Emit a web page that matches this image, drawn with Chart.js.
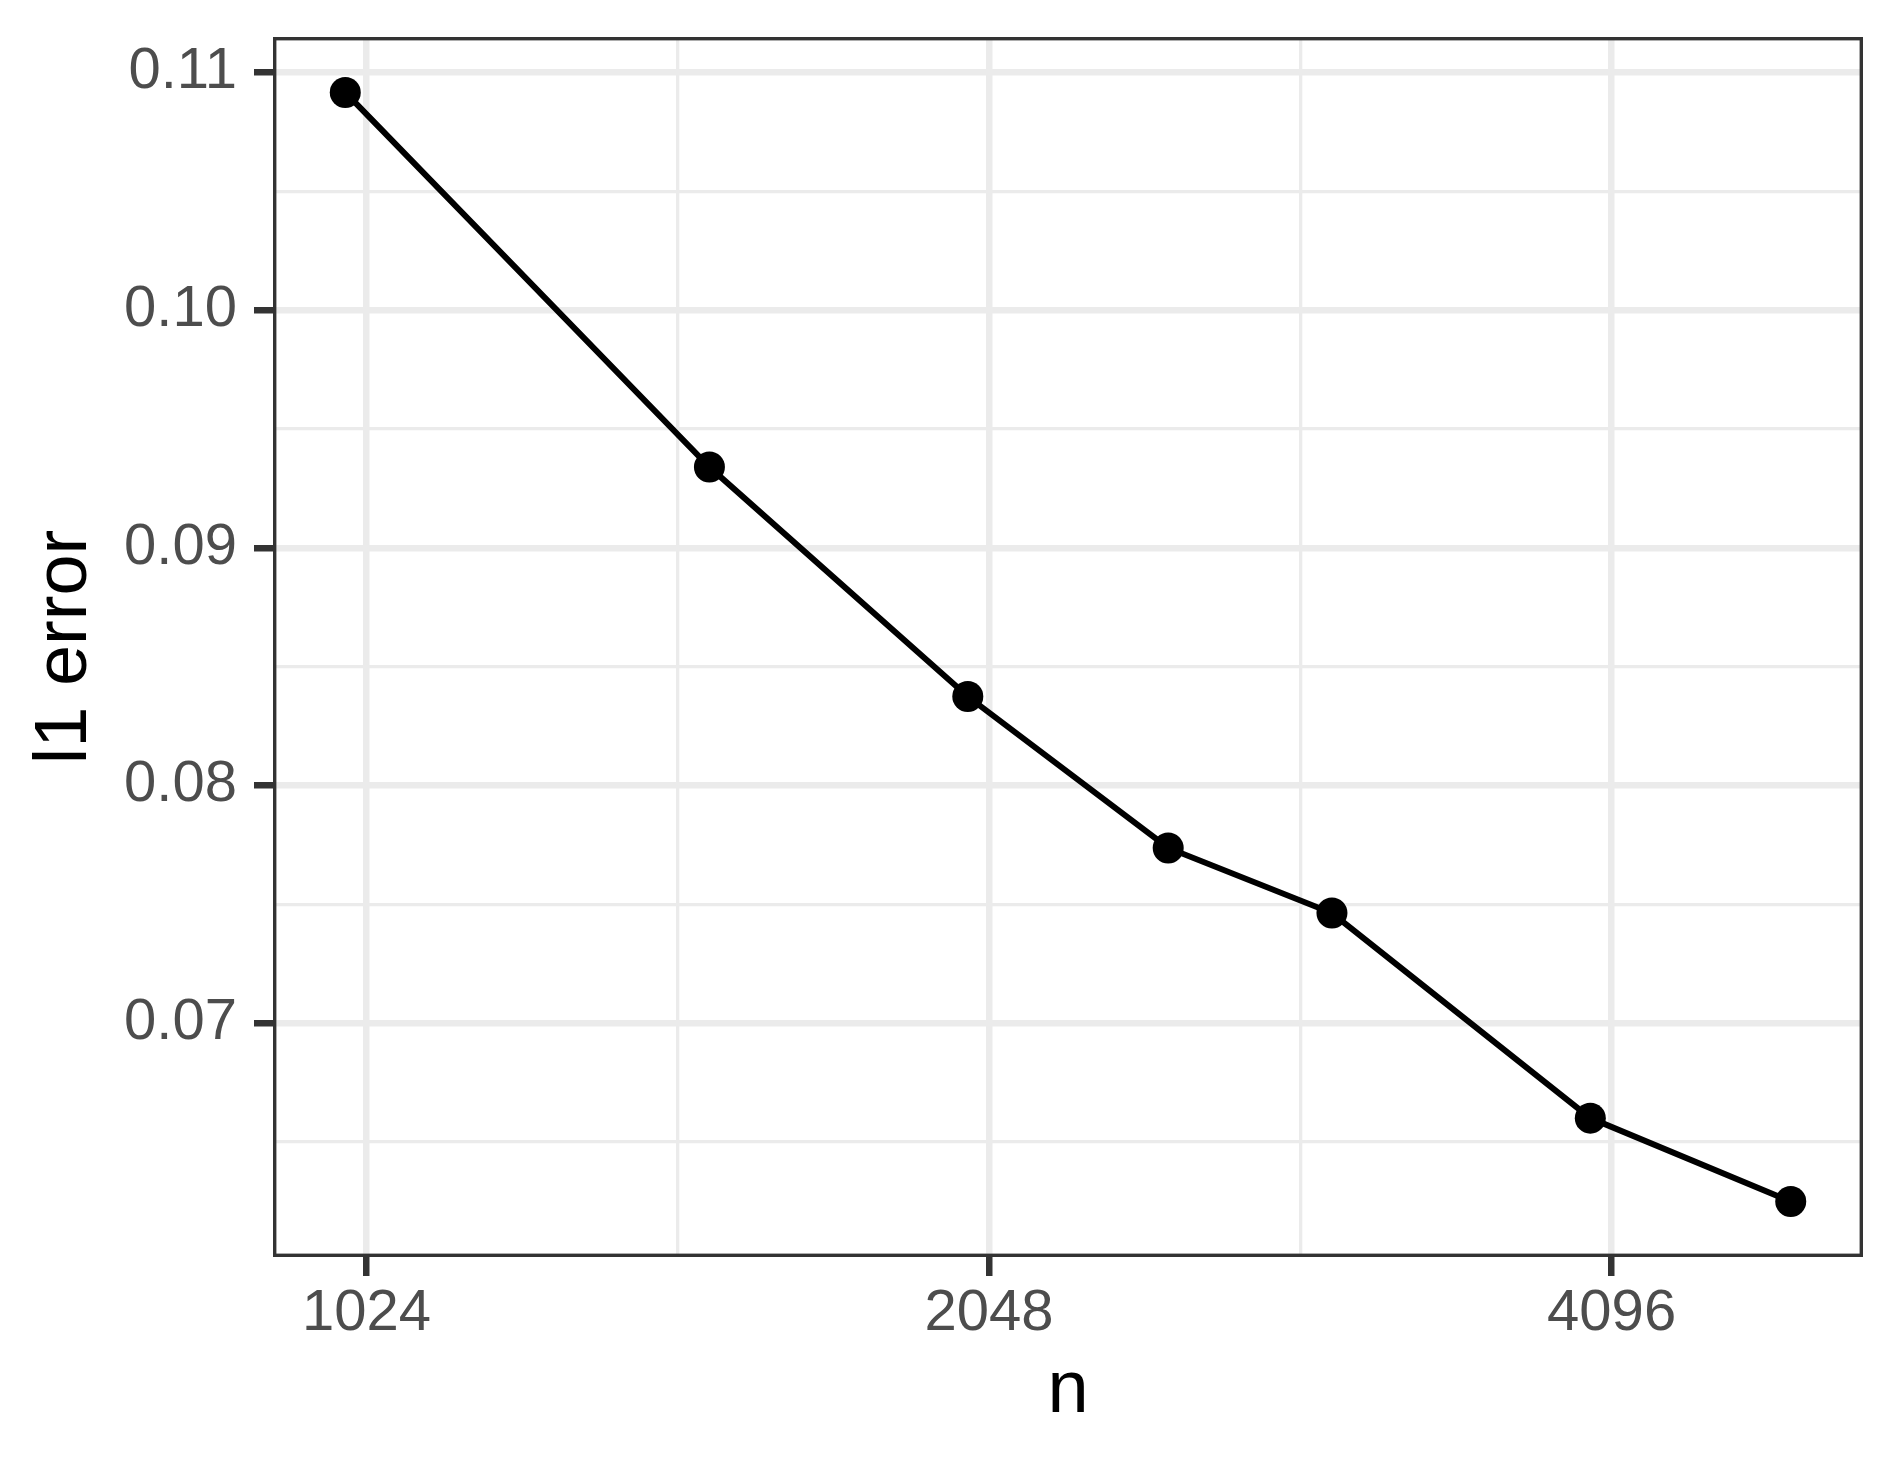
<!DOCTYPE html>
<html>
<head>
<meta charset="utf-8">
<script src="https://cdn.jsdelivr.net/npm/chart.js@4/dist/chart.umd.min.js"></script>
<style>
  html, body { margin: 0; padding: 0; background: #ffffff; }
  #wrap { width: 1900px; height: 1470px; position: relative; }
</style>
</head>
<body>
<div id="wrap"><canvas id="c"></canvas></div>
<script>
// ---- data ----
const nValues = [1000, 1500, 2000, 2500, 3000, 4000, 5000];
const l1Error = [0.10916, 0.09340, 0.08374, 0.07737, 0.07463, 0.06600, 0.06249];

const xTickValues = [1024, 2048, 4096];
const xTickLabels = ['1024', '2048', '4096'];
const xMinorValues = [1448.15, 2896.31];

const yTickValues = [0.07, 0.08, 0.09, 0.10, 0.11];
const yTickLabels = ['0.07', '0.08', '0.09', '0.10', '0.11'];
const yMinorValues = [0.065, 0.075, 0.085, 0.095, 0.105];

const xTitle = 'n';
const yTitle = 'l1 error';

// ggplot-like 5% expansion (x in log2 space)
const lx = nValues.map(v => Math.log2(v));
const lxMin = Math.min(...lx), lxMax = Math.max(...lx);
const xPad = (lxMax - lxMin) * 0.05;
const xMin = Math.pow(2, lxMin - xPad), xMax = Math.pow(2, lxMax + xPad);
const yLo = Math.min(...l1Error), yHi = Math.max(...l1Error);
const yPad = (yHi - yLo) * 0.05;
const yMin = yLo - yPad, yMax = yHi + yPad;

const points = nValues.map((n, i) => ({ x: n, y: l1Error[i] }));

function buildTickList(major, minor) {
  const t = major.map(v => ({ value: v, major: true }))
    .concat(minor.map(v => ({ value: v, major: false })));
  t.sort((a, b) => a.value - b.value);
  return t;
}
function labelFor(value, majors, labels) {
  for (let i = 0; i < majors.length; i++) {
    if (Math.abs(majors[i] - value) < 1e-9 * Math.max(1, Math.abs(value))) return labels[i];
  }
  return '';
}
function zeroPadding(scale) {
  scale.paddingTop = 0; scale.paddingBottom = 0;
  scale.paddingLeft = 0; scale.paddingRight = 0;
}

const gridMajorW = 6.5, gridMinorW = 3.3;
const gridColor = '#EBEBEB';
const tickMarkColor = '#333333';

const panelBorder = {
  id: 'panelBorder',
  afterDatasetsDraw(chart) {
    const { ctx, chartArea: a } = chart;
    const w = 3.4;
    ctx.save();
    ctx.strokeStyle = '#333333';
    ctx.lineWidth = w;
    ctx.strokeRect(a.left + w / 2, a.top + w / 2, a.right - a.left - w, a.bottom - a.top - w);
    ctx.restore();
  }
};

const tickFont = { family: '"Liberation Sans", Arial, sans-serif', size: 58 };
const titleFont = { family: '"Liberation Sans", Arial, sans-serif', size: 74 };

new Chart(document.getElementById('c'), {
  type: 'line',
  data: {
    datasets: [{
      data: points,
      borderColor: '#000000',
      backgroundColor: '#000000',
      borderWidth: 6,
      pointRadius: 15.5,
      pointHoverRadius: 15.5,
      pointBorderWidth: 0,
      pointBackgroundColor: '#000000',
      tension: 0,
      fill: false
    }]
  },
  options: {
    responsive: true,
    maintainAspectRatio: false,
    animation: false,
    devicePixelRatio: 1,
    layout: { padding: { left: 0, top: 37, right: 37, bottom: 0 } },
    plugins: {
      legend: { display: false },
      tooltip: { enabled: false },
      title: { display: false }
    },
    scales: {
      x: {
        type: 'logarithmic',
        position: 'bottom',
        min: xMin,
        max: xMax,
        afterBuildTicks(scale) { scale.ticks = buildTickList(xTickValues, xMinorValues); },
        afterFit(scale) { scale.height = 213; zeroPadding(scale); },
        border: { display: false },
        grid: {
          color: gridColor,
          lineWidth: (ctx) => (ctx.tick && ctx.tick.major) ? gridMajorW : gridMinorW,
          drawTicks: true,
          tickLength: 19,
          tickWidth: (ctx) => (ctx.tick && ctx.tick.major) ? 6.5 : 0.001,
          tickColor: (ctx) => (ctx.tick && ctx.tick.major) ? tickMarkColor : 'rgba(0,0,0,0)'
        },
        ticks: {
          autoSkip: false,
          maxRotation: 0,
          minRotation: 0,
          padding: 3,
          color: '#4D4D4D',
          font: tickFont,
          callback: (value) => labelFor(value, xTickValues, xTickLabels)
        },
        title: {
          display: true,
          text: xTitle,
          color: '#000000',
          font: titleFont,
          padding: { top: 0, bottom: 34 }
        }
      },
      y: {
        type: 'linear',
        position: 'left',
        min: yMin,
        max: yMax,
        bounds: 'data',
        afterBuildTicks(scale) { scale.ticks = buildTickList(yTickValues, yMinorValues); },
        afterFit(scale) { scale.width = 273; zeroPadding(scale); },
        border: { display: false },
        grid: {
          color: gridColor,
          lineWidth: (ctx) => (ctx.tick && ctx.tick.major) ? gridMajorW : gridMinorW,
          drawTicks: true,
          tickLength: 19,
          tickWidth: (ctx) => (ctx.tick && ctx.tick.major) ? 6.5 : 0.001,
          tickColor: (ctx) => (ctx.tick && ctx.tick.major) ? tickMarkColor : 'rgba(0,0,0,0)'
        },
        ticks: {
          autoSkip: false,
          padding: 17,
          color: '#4D4D4D',
          font: tickFont,
          callback: (value) => labelFor(value, yTickValues, yTickLabels)
        },
        title: {
          display: true,
          text: yTitle,
          color: '#000000',
          font: titleFont,
          padding: { top: 21, bottom: 0 }
        }
      }
    }
  },
  plugins: [panelBorder]
});
</script>
</body>
</html>
